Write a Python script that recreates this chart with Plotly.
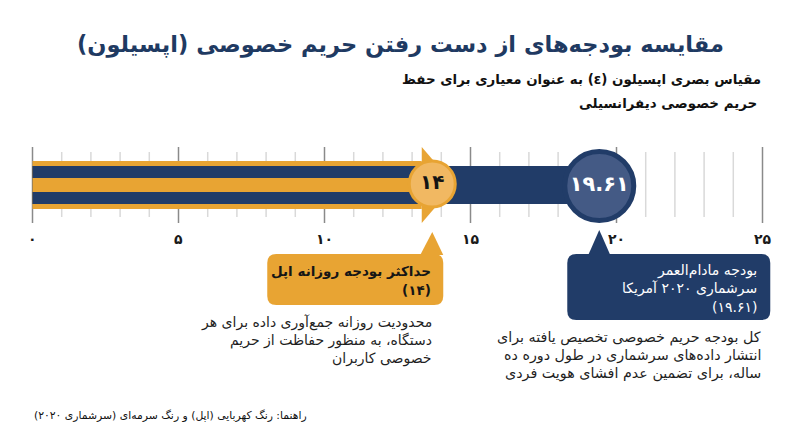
import plotly.graph_objects as go

# ---------------- data ----------------
categories = ["اپل", "سرشماری ۲۰۲۰"]
values = [14, 19.61]
value_labels = ["۱۴", "۱۹.۶۱"]
tick_values = [0, 5, 10, 15, 20, 25]
tick_labels = ["۰", "۵", "۱۰", "۱۵", "۲۰", "۲۵"]
minor_ticks = [v for v in range(1, 25) if v % 5 != 0]

title = "مقایسه بودجه‌های از دست رفتن حریم خصوصی (اپسیلون)"
subtitle = ["مقیاس بصری اپسیلون (ε) به عنوان معیاری برای حفظ", "حریم خصوصی دیفرانسیلی"]
apple_box = ["حداکثر بودجه روزانه اپل", "(۱۴)"]
apple_desc = ["محدودیت روزانه جمع‌آوری داده برای هر", "دستگاه، به منظور حفاظت از حریم", "خصوصی کاربران"]
census_box = ["بودجه مادام‌العمر", "سرشماری ۲۰۲۰ آمریکا", "(۱۹.۶۱)"]
census_desc = ["کل بودجه حریم خصوصی تخصیص یافته برای", "انتشار داده‌های سرشماری در طول دوره ده", "ساله، برای تضمین عدم افشای هویت فردی"]
footer = "راهنما: رنگ کهربایی (اپل) و رنگ سرمه‌ای (سرشماری ۲۰۲۰)"

# ---------------- style ----------------
PAGE_OFF = 8                      # default page margin around the figure
W, H = 800 - 2 * PAGE_OFF, 447 - 2 * PAGE_OFF
X0_PX, PX_PER_UNIT = 32.5, 29.2   # screen position of 0 and scale
NAVY = "#213c68"
NAVY_FILL = "#445a85"
AMBER = "#e8a433"
AMBER_LIGHT = "#f1b862"
FONT = "DejaVu Sans"
BAR_Y = 185


def dx(px):
    return px / PX_PER_UNIT


def px_paper(sx):
    return (sx - PAGE_OFF) / W


def rtl(s):
    return "\u202b" + s + "\u202c"


apple_v, census_v = values
apple_mark = apple_v - 0.31
census_mark = census_v - 0.2

fig = go.Figure()

# grid lines
for v in minor_ticks:
    fig.add_shape(type="line", x0=v, x1=v, y0=152, y1=217, xref="x", yref="y",
                  line=dict(color="#d9d9d9", width=1.5), layer="below")
for v in tick_values:
    fig.add_shape(type="line", x0=v, x1=v, y0=147, y1=223, xref="x", yref="y",
                  line=dict(color="#8a8a8a", width=1.5), layer="below")

# navy census bar
fig.add_trace(go.Bar(x=[census_v - 0.6], y=[BAR_Y], base=0, width=38, orientation="h",
                     marker=dict(color=NAVY, line=dict(width=0)), name=categories[1],
                     hoverinfo="skip"))
# amber apple arrow body
arrow_base = apple_v - 0.67
fig.add_trace(go.Bar(x=[arrow_base], y=[BAR_Y], base=0, width=48, orientation="h",
                     marker=dict(color=AMBER, line=dict(width=0)), name=categories[0],
                     hoverinfo="skip"))
fig.add_trace(go.Bar(x=[arrow_base, arrow_base], y=[BAR_Y - 13, BAR_Y + 13], base=0, width=12,
                     orientation="h", marker=dict(color=NAVY, line=dict(width=0)),
                     hoverinfo="skip", showlegend=False))
# arrow head
tip = apple_v + 0.45
fig.add_trace(go.Scatter(x=[arrow_base, arrow_base, tip, arrow_base], y=[147, 223, BAR_Y, 147],
                         mode="lines", fill="toself", fillcolor=AMBER, line=dict(width=0, color=AMBER),
                         hoverinfo="skip", showlegend=False))

# value circles
fig.add_trace(go.Scatter(x=[apple_mark], y=[BAR_Y - 1], mode="markers+text",
                         marker=dict(size=46, color=AMBER_LIGHT, line=dict(color=AMBER, width=3)),
                         text=[value_labels[0]], textposition="middle center",
                         textfont=dict(family=FONT, size=20, color="#141414", weight="bold"),
                         hoverinfo="skip", showlegend=False))
fig.add_trace(go.Scatter(x=[census_mark], y=[BAR_Y + 1], mode="markers+text",
                         marker=dict(size=69, color=NAVY_FILL, line=dict(color=NAVY, width=5)),
                         text=[value_labels[1]], textposition="middle center",
                         textfont=dict(family=FONT, size=21, color="white", weight="bold"),
                         hoverinfo="skip", showlegend=False))

# tick labels
for v, t in zip(tick_values, tick_labels):
    fig.add_annotation(x=v, y=239, xref="x", yref="y", text=t, showarrow=False,
                       xanchor="center", yanchor="middle",
                       font=dict(family=FONT, size=14, color="#1a1a1a", weight="bold"))


def rounded_box(x_left, x_right, y_top, y_bot, r_px, color):
    rx = dx(r_px)
    ry = r_px
    path = (f"M {x_left + rx},{y_top} L {x_right - rx},{y_top} "
            f"Q {x_right},{y_top} {x_right},{y_top + ry} "
            f"L {x_right},{y_bot - ry} Q {x_right},{y_bot} {x_right - rx},{y_bot} "
            f"L {x_left + rx},{y_bot} Q {x_left},{y_bot} {x_left},{y_bot - ry} "
            f"L {x_left},{y_top + ry} Q {x_left},{y_top} {x_left + rx},{y_top} Z")
    fig.add_shape(type="path", path=path, xref="x", yref="y",
                  fillcolor=color, line=dict(width=0), layer="above")


def pointer(xc, y_tip, y_base, half_px_left, half_px_right, color):
    path = f"M {xc - dx(half_px_left)},{y_base + 1} L {xc},{y_tip} L {xc + dx(half_px_right)},{y_base + 1} Z"
    fig.add_shape(type="path", path=path, xref="x", yref="y",
                  fillcolor=color, line=dict(width=0), layer="above")


# apple callout
a_right = apple_mark + dx(11)
a_left = apple_mark - dx(165)
rounded_box(a_left, a_right, 254, 305, 9, AMBER)
pointer(apple_mark, 232, 254, 12, 11, AMBER)
for i, line in enumerate(apple_box):
    fig.add_annotation(x=a_right - dx(10), y=271 + i * 19, xref="x", yref="y", text=rtl(line),
                       showarrow=False, xanchor="right", yanchor="middle",
                       font=dict(family=FONT, size=13.5, color="#161616", weight="bold"))
for i, line in enumerate(apple_desc):
    fig.add_annotation(x=a_right - dx(9), y=322 + i * 18, xref="x", yref="y", text=rtl(line),
                       showarrow=False, xanchor="right", yanchor="middle",
                       font=dict(family=FONT, size=14, color="#1f1f1f"))

# census callout
c_left = census_mark - dx(32)
c_right = census_mark + dx(171)
rounded_box(c_left, c_right, 254, 320, 9, NAVY)
pointer(census_mark, 230, 254, 11, 11, NAVY)
for i, line in enumerate(census_box):
    fig.add_annotation(x=c_right - dx(11), y=270 + i * 18.5, xref="x", yref="y", text=rtl(line),
                       showarrow=False, xanchor="right", yanchor="middle",
                       font=dict(family=FONT, size=14, color="white"))
for i, line in enumerate(census_desc):
    fig.add_annotation(x=c_right - dx(7), y=337 + i * 18, xref="x", yref="y", text=rtl(line),
                       showarrow=False, xanchor="right", yanchor="middle",
                       font=dict(family=FONT, size=14.3, color="#1f1f1f"))

# titles
fig.add_annotation(x=px_paper(400), y=44, xref="paper", yref="y", text=rtl(title), showarrow=False,
                   xanchor="center", yanchor="middle",
                   font=dict(family=FONT, size=22.5, color="#1f3a62", weight="bold"))
fig.add_annotation(x=px_paper(763), y=79, xref="paper", yref="y", text=rtl(subtitle[0]), showarrow=False,
                   xanchor="right", yanchor="middle",
                   font=dict(family=FONT, size=13.4, color="#111111", weight="bold"))
fig.add_annotation(x=px_paper(759), y=103, xref="paper", yref="y", text=rtl(subtitle[1]), showarrow=False,
                   xanchor="right", yanchor="middle",
                   font=dict(family=FONT, size=13.4, color="#111111", weight="bold"))
fig.add_annotation(x=px_paper(32), y=415, xref="paper", yref="y", text=rtl(footer), showarrow=False,
                   xanchor="left", yanchor="middle",
                   font=dict(family=FONT, size=10.8, color="#111111"))

fig.update_layout(
    width=W, height=H, margin=dict(l=0, r=0, t=0, b=0),
    paper_bgcolor="white", plot_bgcolor="white",
    barmode="overlay", showlegend=False,
    xaxis=dict(range=[(PAGE_OFF - X0_PX) / PX_PER_UNIT, (PAGE_OFF + W - X0_PX) / PX_PER_UNIT],
               visible=False, fixedrange=True),
    yaxis=dict(range=[PAGE_OFF + H, PAGE_OFF], visible=False, fixedrange=True),
)

fig.write_html("out.html")
